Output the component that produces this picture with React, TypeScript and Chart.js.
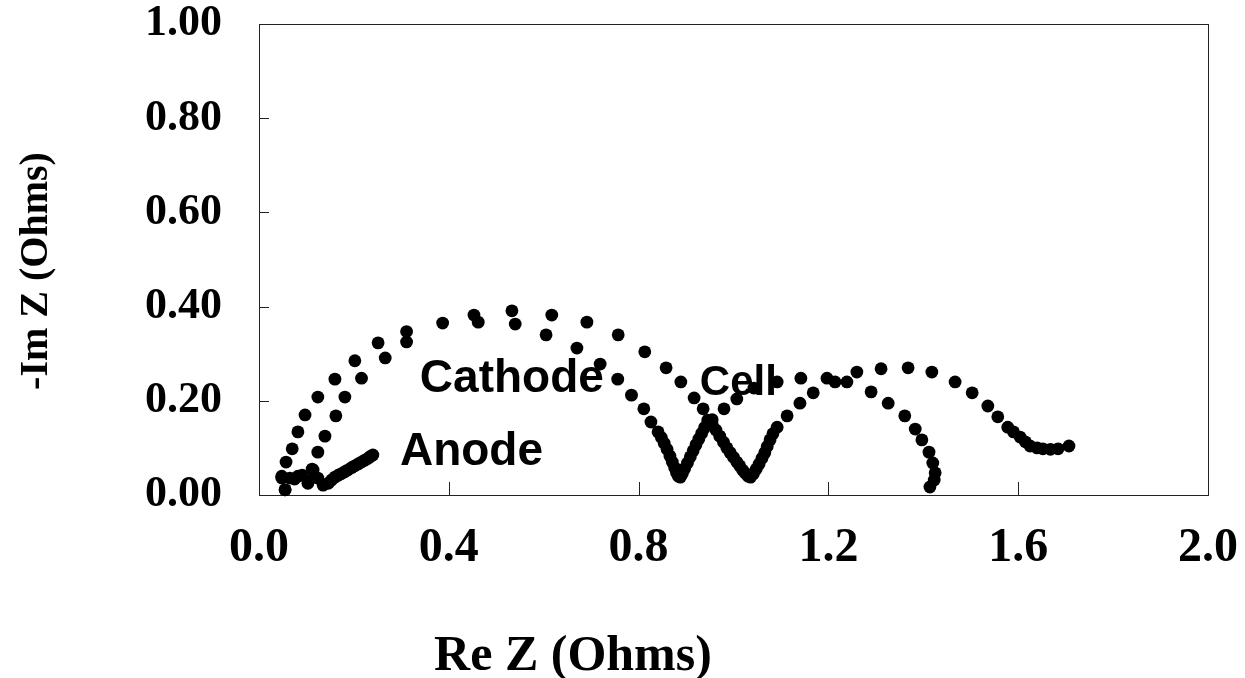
import React, { useEffect, useRef } from "react";
import { Chart, registerables } from "chart.js";

Chart.register(...registerables);

// Axis ticks
const X_TICKS = [0, 0.4, 0.8, 1.2, 1.6, 2.0];
const Y_TICKS = [0, 0.2, 0.4, 0.6, 0.8, 1.0];

// Series names
const SERIES_NAMES = ["Anode", "Cathode", "Cell"];

// Anode impedance (Re Z, -Im Z) in Ohms
const anodeRe = [0.048, 0.055, 0.065, 0.075, 0.082, 0.091, 0.103, 0.114, 0.124, 0.135, 0.146, 0.153, 0.160, 0.167, 0.173, 0.180, 0.187, 0.195, 0.202, 0.209, 0.216, 0.223, 0.230, 0.235, 0.240];
const anodeIm = [0.036, 0.011, 0.036, 0.034, 0.040, 0.042, 0.025, 0.053, 0.036, 0.021, 0.025, 0.032, 0.038, 0.042, 0.045, 0.049, 0.053, 0.058, 0.062, 0.066, 0.070, 0.074, 0.078, 0.082, 0.085];

// Cathode impedance
const cathodeRe = [0.055, 0.048, 0.057, 0.070, 0.082, 0.097, 0.124, 0.160, 0.202, 0.251, 0.311, 0.387, 0.453, 0.533, 0.617, 0.691, 0.757, 0.813, 0.858, 0.889, 0.917, 0.936, 0.946, 0.955, 0.963, 0.971, 0.979, 0.986, 0.993, 1.000, 1.007, 1.013, 1.019, 1.025, 1.031, 1.036, 1.042, 1.048, 1.054, 1.060, 1.066, 1.071, 1.077, 1.083, 1.092, 1.113, 1.140, 1.168, 1.214, 1.239, 1.290, 1.326, 1.361, 1.383, 1.397, 1.412, 1.420, 1.425, 1.423, 1.414];
const cathodeIm = [0.011, 0.040, 0.070, 0.098, 0.134, 0.170, 0.208, 0.246, 0.285, 0.323, 0.347, 0.365, 0.382, 0.391, 0.382, 0.367, 0.340, 0.304, 0.270, 0.240, 0.206, 0.183, 0.159, 0.150, 0.138, 0.125, 0.112, 0.100, 0.090, 0.080, 0.070, 0.062, 0.053, 0.046, 0.040, 0.038, 0.045, 0.055, 0.066, 0.078, 0.090, 0.103, 0.117, 0.130, 0.144, 0.168, 0.195, 0.217, 0.240, 0.240, 0.219, 0.195, 0.168, 0.140, 0.117, 0.091, 0.068, 0.047, 0.032, 0.017];

// Cell impedance
const cellRe = [0.105, 0.112, 0.124, 0.139, 0.162, 0.181, 0.216, 0.266, 0.311, 0.462, 0.540, 0.605, 0.670, 0.719, 0.756, 0.785, 0.811, 0.826, 0.841, 0.848, 0.854, 0.860, 0.866, 0.871, 0.876, 0.880, 0.884, 0.888, 0.892, 0.897, 0.903, 0.909, 0.915, 0.921, 0.927, 0.933, 0.939, 0.946, 0.955, 0.980, 1.007, 1.043, 1.092, 1.142, 1.197, 1.260, 1.311, 1.368, 1.418, 1.467, 1.503, 1.536, 1.557, 1.578, 1.590, 1.604, 1.615, 1.625, 1.640, 1.652, 1.668, 1.684, 1.707];
const cellIm = [0.030, 0.055, 0.091, 0.125, 0.168, 0.208, 0.248, 0.291, 0.325, 0.367, 0.363, 0.340, 0.312, 0.278, 0.246, 0.212, 0.183, 0.155, 0.134, 0.122, 0.110, 0.097, 0.083, 0.070, 0.058, 0.047, 0.040, 0.038, 0.045, 0.056, 0.068, 0.081, 0.094, 0.107, 0.119, 0.131, 0.143, 0.155, 0.160, 0.183, 0.204, 0.227, 0.240, 0.248, 0.248, 0.261, 0.268, 0.270, 0.261, 0.240, 0.217, 0.189, 0.166, 0.144, 0.134, 0.123, 0.113, 0.104, 0.100, 0.098, 0.097, 0.098, 0.104];

const SERIF = '"Liberation Serif", "Times New Roman", serif';
const SANS = '"Liberation Sans", Arial, sans-serif';

const toPoints = (re: number[], im: number[]) => re.map((x, i) => ({ x, y: im[i] }));

const zeroPadding = (s: any) => {
  s.paddingTop = 0;
  s.paddingBottom = 0;
  s.paddingLeft = 0;
  s.paddingRight = 0;
};

const decorPlugin = {
  id: "decor",
  beforeDatasetsDraw(chart: any) {
    const { ctx, chartArea } = chart;
    const xs = chart.scales.x;
    const ys = chart.scales.y;
    ctx.save();
    ctx.strokeStyle = "#222";
    ctx.lineWidth = 1;
    ctx.strokeRect(chartArea.left + 0.5, chartArea.top + 0.5, chartArea.right - chartArea.left, chartArea.bottom - chartArea.top);
    ctx.beginPath();
    X_TICKS.forEach((v) => {
      const px = Math.round(xs.getPixelForValue(v)) + 0.5;
      ctx.moveTo(px, chartArea.bottom);
      ctx.lineTo(px, chartArea.bottom - 13);
    });
    Y_TICKS.forEach((v) => {
      const py = Math.round(ys.getPixelForValue(v)) + 0.5;
      ctx.moveTo(chartArea.left, py);
      ctx.lineTo(chartArea.left + 10, py);
    });
    ctx.stroke();
    ctx.restore();
  },
  afterDraw(chart: any) {
    const { ctx } = chart;
    const xs = chart.scales.x;
    const ys = chart.scales.y;
    ctx.save();
    ctx.fillStyle = "#000";
    // Series labels anchored in data coordinates
    const anchors: [number, number, number][] = [
      [0.297, 0.0637, 46],
      [0.339, 0.2187, 46],
      [0.929, 0.212, 42],
    ];
    ctx.textAlign = "left";
    ctx.textBaseline = "alphabetic";
    SERIES_NAMES.forEach((name, i) => {
      ctx.font = `bold ${anchors[i][2]}px ${SANS}`;
      ctx.fillText(name, xs.getPixelForValue(anchors[i][0]), ys.getPixelForValue(anchors[i][1]));
    });
    // Axis titles
    ctx.font = `bold 50px ${SERIF}`;
    ctx.textAlign = "center";
    ctx.textBaseline = "middle";
    ctx.fillText("Re Z (Ohms)", 573, 657);
    ctx.save();
    ctx.translate(37, 271);
    ctx.rotate(-Math.PI / 2);
    ctx.font = `bold 40px ${SERIF}`;
    ctx.fillText("-Im Z (Ohms)", 0, 0);
    ctx.restore();
    ctx.restore();
  },
};

export default function App() {
  const ref = useRef<HTMLCanvasElement>(null);
  useEffect(() => {
    const canvas = ref.current;
    if (!canvas) return;
    const pointStyle = {
      showLine: false,
      pointRadius: 6.4,
      pointHoverRadius: 6.4,
      pointBackgroundColor: "#000",
      pointBorderColor: "#000",
      pointBorderWidth: 0,
      clip: false as any,
    };
    const chart = new Chart(canvas, {
      type: "scatter",
      data: {
        datasets: [
          { label: SERIES_NAMES[0], data: toPoints(anodeRe, anodeIm), ...pointStyle },
          { label: SERIES_NAMES[1], data: toPoints(cathodeRe, cathodeIm), ...pointStyle },
          { label: SERIES_NAMES[2], data: toPoints(cellRe, cellIm), ...pointStyle },
        ],
      },
      options: {
        responsive: false,
        animation: false,
        devicePixelRatio: 1,
        layout: { padding: { top: 24, right: 37, left: 0, bottom: 0 } },
        plugins: { legend: { display: false }, tooltip: { enabled: false } },
        scales: {
          x: {
            type: "linear",
            min: 0,
            max: 2,
            afterBuildTicks: (s: any) => {
              s.ticks = X_TICKS.map((v) => ({ value: v }));
            },
            afterFit: (s: any) => {
              s.height = 183;
              zeroPadding(s);
            },
            ticks: {
              callback: (v: any) => Number(v).toFixed(1),
              font: { family: SERIF, weight: "bold", size: 48, lineHeight: 1 },
              color: "#000",
              padding: 30,
              maxRotation: 0,
              autoSkip: false,
            },
            grid: { display: false, drawTicks: false },
            border: { display: false },
          },
          y: {
            type: "linear",
            min: 0,
            max: 1,
            afterBuildTicks: (s: any) => {
              s.ticks = Y_TICKS.map((v) => ({ value: v }));
            },
            afterFit: (s: any) => {
              s.width = 259;
              zeroPadding(s);
            },
            ticks: {
              callback: (v: any) => Number(v).toFixed(2),
              font: { family: SERIF, weight: "bold", size: 44, lineHeight: 1 },
              color: "#000",
              padding: 37,
              autoSkip: false,
            },
            grid: { display: false, drawTicks: false },
            border: { display: false },
          },
        },
      } as any,
      plugins: [decorPlugin],
    });
    return () => chart.destroy();
  }, []);
  return (
    <div style={{ position: "fixed", left: 0, top: 0, width: 1245, height: 678, background: "#fff" }}>
      <canvas ref={ref} width={1245} height={678} style={{ display: "block" }} />
    </div>
  );
}
